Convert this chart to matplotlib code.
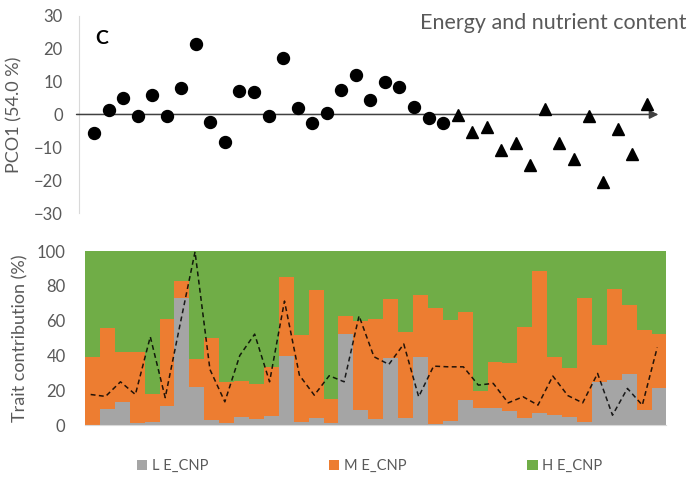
import matplotlib.pyplot as plt
import numpy as np

plt.rcParams["font.family"] = ["Lato", "DejaVu Sans"]

# top panel: PCO1 scores
pco_circles = [-5.6, 1.5, 5.1, -0.4, 5.9, -0.5, 8.0, 21.3, -2.3, -8.4, 7.1, 6.9, -0.4,
	17.1, 2.1, -2.5, 0.4, 7.4, 11.9, 4.4, 9.8, 8.3, 2.4, -1.0, -2.6]
pco_triangles = [-0.2, -5.4, -3.9, -10.9, -8.6, -15.3, 1.6, -8.6, -13.7, -0.5, -20.7,
	-4.3, -12.1, 3.1]

# bottom panel: trait contributions (%)
low = [0, 9.0, 13.2, 1.0, 1.9, 10.9, 72.8, 21.8, 2.9, 1.3, 4.6, 3.6, 5.0, 40.0, 1.7,
	4.0, 1.3, 52.3, 8.6, 3.6, 38.3, 4.0, 38.9, 0.4, 2.5, 14.4, 9.6, 10.0, 8.2, 4.2,
	6.7, 5.7, 4.6, 1.9, 24.5, 26.1, 29.1, 8.8, 21.1]
low_mid = [39.3, 56.1, 41.8, 42.1, 18.0, 60.9, 83.0, 37.9, 50.2, 24.9, 25.5, 23.9,
	33.5, 85.1, 51.9, 77.4, 14.9, 62.5, 60.0, 60.9, 72.6, 53.3, 74.7, 67.2, 60.3,
	65.1, 19.7, 36.2, 35.8, 56.5, 88.3, 38.9, 33.0, 73.2, 46.0, 78.5, 69.3, 54.4, 52.3]
trend = [17.6, 16.5, 24.9, 17.6, 50.8, 15.8, 58.0, 99.6, 32.0, 13.4, 40.0, 52.3, 24.9,
	71.3, 28.7, 17.2, 28.4, 24.9, 62.8, 39.3, 34.9, 46.6, 16.3, 33.9, 33.5, 33.5,
	23.0, 24.0, 12.8, 16.3, 11.5, 28.2, 17.0, 12.8, 29.7, 5.7, 21.1, 11.5, 44.6]
legend_labels = ["L E_CNP", "M E_CNP", "H E_CNP"]

GREY = "#A5A5A5"
ORANGE = "#ED7D31"
GREEN = "#70AD47"
TEXT = "#595959"

fig = plt.figure(figsize=(6.91, 4.82), dpi=100)

# ---- top panel
ax1 = fig.add_axes([0.115, 0.558, 0.842, 0.409])
n_c = len(pco_circles)
n_t = len(pco_triangles)
xc = np.arange(1, n_c + 1)
xt = np.arange(n_c + 1, n_c + n_t + 1)

ax1.annotate("", xy=(39.8, 0), xytext=(-0.2, 0),
	arrowprops=dict(arrowstyle="-|>", color="#404040", lw=1.1, mutation_scale=13,
	shrinkA=0, shrinkB=0))
ax1.plot(xc, pco_circles, "o", color="black", markersize=8.6, zorder=3)
ax1.plot(xt, pco_triangles, "^", color="black", markersize=8.6, zorder=3)

ax1.set_xlim(0, 40)
ax1.set_ylim(-30, 30)
ax1.set_yticks(range(-30, 31, 10))
ax1.set_xticks([])
for s in ["top", "right", "bottom"]:
	ax1.spines[s].set_visible(False)
ax1.spines["left"].set_color("#D9D9D9")
ax1.tick_params(axis="y", length=0, pad=12, labelsize=12, labelcolor=TEXT)
ax1.set_ylabel("PCO1 (54.0 %)", fontsize=13, color=TEXT, labelpad=8)
ax1.text(1.1, 21.5, "C", fontsize=14, fontweight="bold", color="black")
fig.text(0.993, 0.953, "Energy and nutrient content", ha="right", va="center",
	fontsize=15.5, color=TEXT)

# ---- bottom panel
ax2 = fig.add_axes([0.123, 0.118, 0.8415, 0.361])
x = np.arange(1, len(low) + 1)
mid = [t - l for t, l in zip(low_mid, low)]
high = [100 - t for t in low_mid]
ax2.bar(x, low, width=1.0, color=GREY, label=legend_labels[0])
ax2.bar(x, mid, width=1.0, bottom=low, color=ORANGE, label=legend_labels[1])
ax2.bar(x, high, width=1.0, bottom=low_mid, color=GREEN, label=legend_labels[2])
ax2.plot(x - 0.12, trend, color="black", lw=1.1, linestyle=(0, (3.2, 2.2)), alpha=0.85)

ax2.set_xlim(0.5, len(low) + 0.5)
ax2.set_ylim(0, 100)
ax2.set_yticks(range(0, 101, 20))
ax2.set_xticks([])
for s in ["top", "right", "left"]:
	ax2.spines[s].set_visible(False)
ax2.spines["bottom"].set_color("#D9D9D9")
ax2.tick_params(axis="y", length=0, pad=14, labelsize=12, labelcolor=TEXT)
ax2.set_ylabel("Trait contribution (%)", fontsize=13, color=TEXT, labelpad=6)

fig.legend(loc="center", bbox_to_anchor=(0.535, 0.033), ncol=3, frameon=False,
	fontsize=10.5, labelcolor=TEXT, handlelength=0.7, handleheight=0.7,
	handletextpad=0.3, columnspacing=8.3)

fig.savefig("out.png", dpi=100)
